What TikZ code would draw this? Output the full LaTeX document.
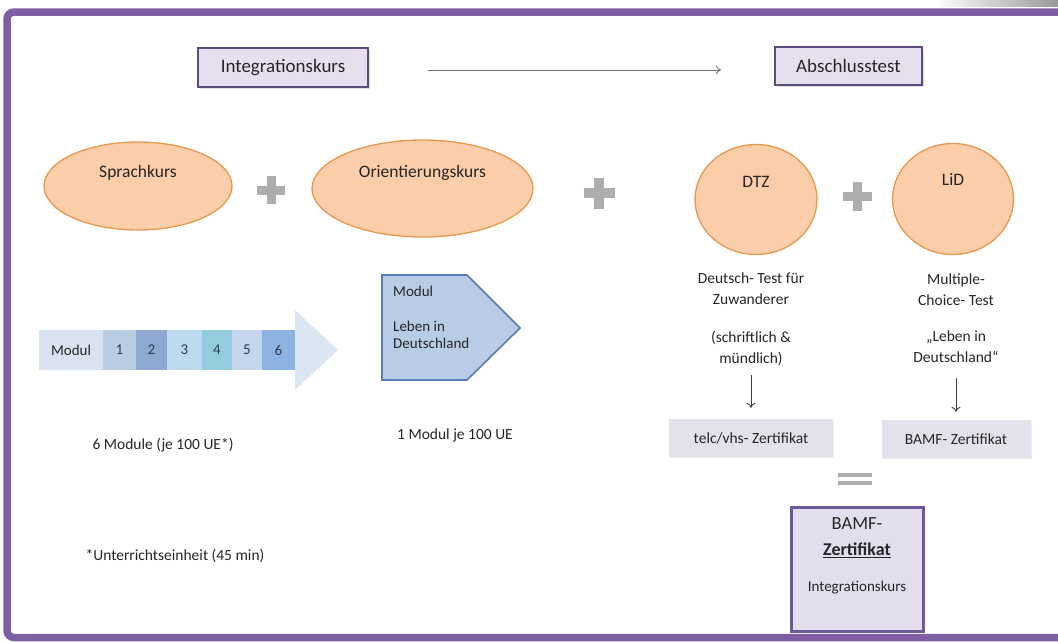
\documentclass[tikz,border=0pt]{standalone}
\usepackage{fontspec}
\setmainfont{Carlito}
\usetikzlibrary{shapes.geometric,arrows.meta,shadows}
\definecolor{framecol}{HTML}{7E5FA4}
\definecolor{hdrfill}{HTML}{E6E0EE}
\definecolor{hdrdraw}{HTML}{5E4B7D}
\definecolor{ellfill}{HTML}{FBCDA9}
\definecolor{elldraw}{HTML}{E7984F}
\definecolor{plusgray}{HTML}{ADADAD}
\definecolor{certfill}{HTML}{E4E1EA}
\definecolor{bamffill}{HTML}{E3DEEE}
\definecolor{bamfdraw}{HTML}{6A5898}
\definecolor{pentfill}{HTML}{B8CCE6}
\definecolor{pentdraw}{HTML}{5A7CB3}
\definecolor{txt}{HTML}{262626}
\definecolor{segA}{HTML}{DAE1F0}
\definecolor{segB}{HTML}{B8CCE4}
\definecolor{segC}{HTML}{8EA9D1}
\definecolor{segD}{HTML}{BDDBEE}
\definecolor{segE}{HTML}{93CDDD}
\definecolor{segF}{HTML}{C5D5EE}
\definecolor{segG}{HTML}{8DB3E2}
\definecolor{headcol}{HTML}{DCE6F2}
\definecolor{segtxt}{HTML}{2F3B55}
\begin{document}
\begin{tikzpicture}[x=1pt,y=-1pt,
  every node/.style={text=txt},
  hdr/.style={draw=hdrdraw, line width=2.2pt, fill=hdrfill, inner sep=0pt,
    font=\fontsize{19}{22}\selectfont,
    drop shadow={shadow xshift=1.5pt, shadow yshift=-1.5pt, opacity=.25}},
  ell/.style={ellipse, draw=elldraw, line width=1.3pt, fill=ellfill, inner sep=0pt},
  elltext/.style={font=\fontsize{17.5}{20}\selectfont},
  small/.style={font=\fontsize{15.5}{21}\selectfont, align=center, inner sep=0pt},
  cert/.style={fill=certfill, inner sep=0pt, font=\fontsize{15.5}{18}\selectfont,
    drop shadow={shadow xshift=1pt, shadow yshift=-1pt, opacity=.15}},
  seg/.style={minimum height=40pt, inner sep=0pt, font=\fontsize{15}{17}\selectfont, text=segtxt},
  darr/.style={draw=black!75, line width=0.9pt, -{To[length=5pt,width=9pt]}},
  harr/.style={draw=black!55, line width=0.9pt, -{To[length=5pt,width=9pt]}},
  plusbar/.style={plusgray, line width=9pt},
]
\useasboundingbox (0,0) rectangle (1058,641);
\fill[white] (0,0) rectangle (1058,641);
\shade[left color=white, right color=black!40] (935,0) rectangle (1058,6);
\draw[framecol, line width=7.5pt, rounded corners=7pt] (1075,12) -- (7,12) -- (7,637.5) -- (1075,637.5);

% header
\node[hdr, minimum width=170pt, minimum height=39pt] (ik) at (283,67.5) {Integrationskurs};
\node[hdr, minimum width=147pt, minimum height=38pt] (at) at (848.5,66) {Abschlusstest};
\draw[harr, shorten <=59pt, shorten >=53pt] ([yshift=-2.5pt]ik.east) -- ([yshift=-4pt]at.west);

% ellipses
\node[ell, minimum width=188pt, minimum height=88pt,
  label={[elltext, yshift=13pt]center:Sprachkurs}] (sk) at (138,186) {};
\node[ell, minimum width=221pt, minimum height=97pt,
  label={[elltext, yshift=16pt]center:Orientierungskurs}] (ok) at (422.5,188.5) {};
\node[ell, minimum width=122pt, minimum height=110pt,
  label={[elltext, yshift=17.5pt]center:DTZ}] (dtz) at (756,199.5) {};
\node[ell, minimum width=121pt, minimum height=111pt,
  label={[elltext, yshift=20pt]center:LiD}] (lid) at (953,199) {};

% plus signs
\draw[plusbar] (257,190) -- (285,190);
\draw[plusbar] (271,176) -- (271,204);
\draw[plusbar, line width=10pt] (583.5,193) -- (614.5,193);
\draw[plusbar, line width=10pt] (599,177.5) -- (599,208.5);
\draw[plusbar] (842.5,196) -- (871.5,196);
\draw[plusbar] (857,181.5) -- (857,210.5);

% test descriptions
\node[small] (dtzd) at (751,289) {Deutsch- Test für\\Zuwanderer};
\node[small] (dtzs) at (751,348.5) {(schriftlich \&\\mündlich)};
\node[small] (lidd) at (956,290) {Multiple-\\Choice- Test};
\node[small] (lids) at (956,347) {„Leben in\\Deutschland“};

\node[cert, minimum width=164pt, minimum height=38pt] (telc) at (751,438) {telc/vhs- Zertifikat};
\node[cert, minimum width=149pt, minimum height=38pt] (bz) at (956,439) {BAMF- Zertifikat};
\draw[darr, shorten <=9pt, shorten >=11pt] (dtzs.south) -- (telc.north);
\draw[darr, shorten <=15pt, shorten >=8pt] (lids.south) -- (bz.north);

% equals sign
\draw[plusgray, line width=4pt] (838,475) -- (872,475);
\draw[plusgray, line width=4pt] (838,483) -- (872,483);

% final certificate
\node[draw=bamfdraw, line width=3pt, fill=bamffill, minimum width=132pt, minimum height=124pt,
  label={[font=\fontsize{18.5}{22}\selectfont, yshift=45pt]center:BAMF-},
  label={[font=\fontsize{18}{22}\selectfont, yshift=19pt]center:\textbf{\underline{Zertifikat}}},
  label={[font=\fontsize{15}{18}\selectfont, yshift=-19pt]center:Integrationskurs}] (bamf) at (857,569) {};

% module arrow
\fill[headcol] (295,310) -- (338,350) -- (295,390) -- cycle;
\node[seg, fill=segA, minimum width=64pt, text=txt] (mod) at (71,350) {Modul};
\node[seg, fill=segB, minimum width=33pt] (m1) at (119.5,350) {1};
\node[seg, fill=segC, minimum width=31pt] (m2) at (151.5,350) {2};
\node[seg, fill=segD, minimum width=35pt] (m3) at (184.5,350) {3};
\node[seg, fill=segE, minimum width=30pt] (m4) at (217,350) {4};
\node[seg, fill=segF, minimum width=30pt] (m5) at (247,350) {5};
\node[seg, fill=segG, minimum width=33pt] (m6) at (278.5,350) {6};

% orientation module pentagon
\filldraw[fill=pentfill, draw=pentdraw, line width=1.6pt]
  (382,275) -- (467,275) -- (520,328) -- (467,380) -- (382,380) -- cycle;
\node[anchor=north west, align=left, inner sep=0pt, font=\fontsize{15}{17}\selectfont] (ldt)
  at (393,286) {Modul\\[18pt]Leben in\\Deutschland};

% captions
\node[font=\fontsize{15.5}{18}\selectfont] (c6) at (163,445) {6 Module (je 100 UE*)};
\node[font=\fontsize{15.5}{18}\selectfont] (c1) at (455,435) {1 Modul je 100 UE};
\node[font=\fontsize{15.5}{18}\selectfont] (fn) at (175,556) {*Unterrichtseinheit (45 min)};
\end{tikzpicture}
\end{document}
